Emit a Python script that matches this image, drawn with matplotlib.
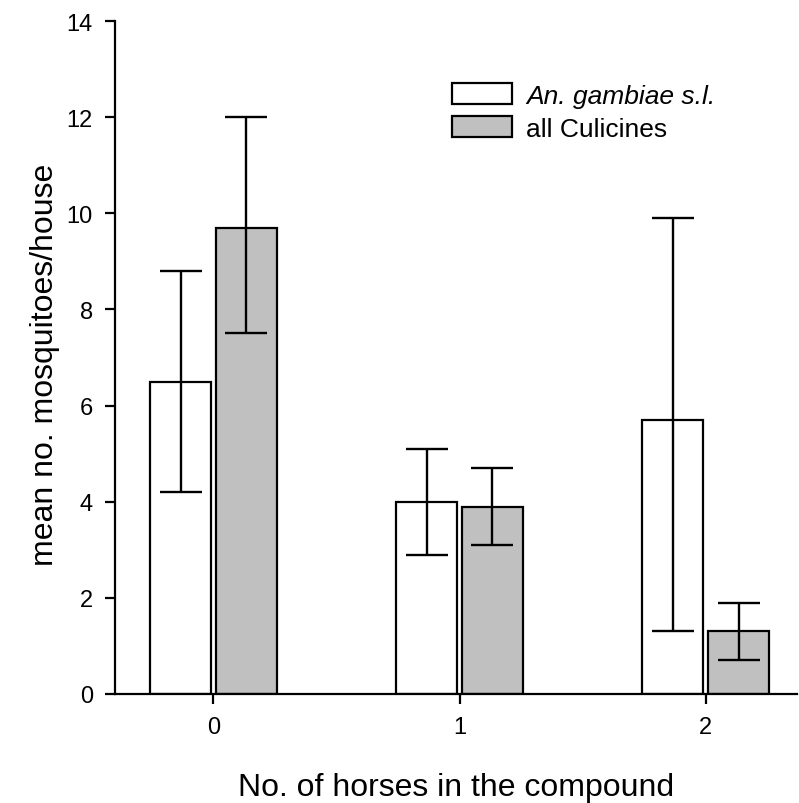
import numpy as np
import matplotlib
matplotlib.use('Agg')
import matplotlib.pyplot as plt

plt.rcParams['font.family'] = ['Liberation Sans', 'DejaVu Sans']

horses = ['0', '1', '2']
gambiae = [6.5, 4.0, 5.7]
gambiae_lo = [4.2, 2.9, 1.3]
gambiae_hi = [8.8, 5.1, 9.9]
culic = [9.7, 3.9, 1.3]
culic_lo = [7.5, 3.1, 0.7]
culic_hi = [12.0, 4.7, 1.9]

x = np.arange(len(horses))
w = 0.245
off = 0.134

fig = plt.figure(figsize=(7.99, 8.04), dpi=100)
ax = fig.add_axes([0.144, 0.1356, 0.853, 0.837])

g = np.array(gambiae)
c = np.array(culic)
ekw = dict(ecolor='black', elinewidth=1.7, capsize=15, capthick=1.7)
ax.bar(x - off, g, w, color='white', edgecolor='black', linewidth=1.6,
       label='An. gambiae s.l.', zorder=2)
ax.errorbar(x - off, g, yerr=[g - np.array(gambiae_lo), np.array(gambiae_hi) - g],
            fmt='none', zorder=3, **ekw)
ax.bar(x + off, c, w, color='#c0c0c0', edgecolor='black', linewidth=1.6,
       label='all Culicines', zorder=2)
ax.errorbar(x + off, c, yerr=[c - np.array(culic_lo), np.array(culic_hi) - c],
            fmt='none', zorder=3, **ekw)

ax.set_xlim(-0.40, 2.37)
ax.set_ylim(0, 14)
ax.set_yticks(range(0, 15, 2))
ax.set_xticks(x)
ax.set_xticklabels(horses)
ax.spines['top'].set_visible(False)
ax.spines['right'].set_visible(False)
ax.spines['left'].set_linewidth(1.6)
ax.spines['bottom'].set_linewidth(1.6)
ax.tick_params(axis='both', labelsize=17, width=1.6, length=7, pad=9)

ax.set_xlabel('No. of horses in the compound', fontsize=23, labelpad=24)
ax.set_ylabel('mean no. mosquitoes/house', fontsize=23, labelpad=5)
ax.yaxis.label.set_y(0.49)

leg = ax.legend(loc='upper left', bbox_to_anchor=(0.459, 0.943), frameon=False,
                fontsize=19, handlelength=2.3, handleheight=0.85, handletextpad=0.53,
                labelspacing=0.32)
leg.get_texts()[0].set_fontstyle('italic')

fig.savefig('out.png', dpi=100)
